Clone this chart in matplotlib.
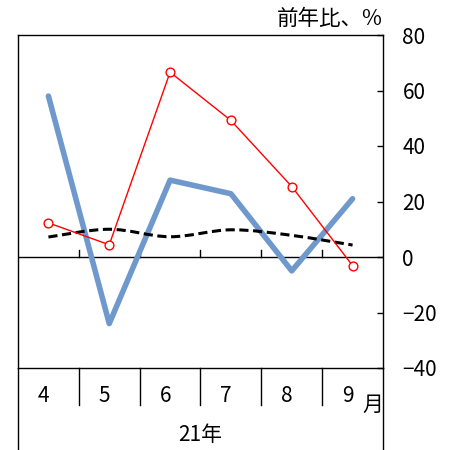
import matplotlib
matplotlib.use("Agg")
import matplotlib.pyplot as plt
from matplotlib.path import Path
from matplotlib.patches import PathPatch
import numpy as np

plt.rcParams['font.family'] = ['Noto Sans CJK JP', 'DejaVu Sans']

months = ["4", "5", "6", "7", "8", "9"]
year_label = "21年"
blue_vals = [58, -24, 27.7, 22.8, -5, 21]
red_vals = [12.3, 4.4, 66.6, 49.2, 25.4, -3.1]
black_vals = [7.2, 10, 7.3, 9.8, 7.8, 4.3]
yticks = [80, 60, 40, 20, 0, -20, -40]

fig = plt.figure(figsize=(4.5, 4.5), dpi=100)
ax = fig.add_axes([18/450, 1-368/450, (383-18)/450, (368-35)/450])
x = np.arange(len(months))

ax.plot(x, blue_vals, color='#6f99cc', lw=4.0, solid_capstyle='round', zorder=2)

# smoothed dashed line (Catmull-Rom -> cubic bezier)
pts = np.column_stack([x, black_vals]).astype(float)
verts = [tuple(pts[0])]
codes = [Path.MOVETO]
n = len(pts)
for i in range(n - 1):
    p0 = pts[i - 1] if i > 0 else pts[i]
    p1 = pts[i]
    p2 = pts[i + 1]
    p3 = pts[i + 2] if i + 2 < n else pts[i + 1]
    c1 = p1 + (p2 - p0) / 6
    c2 = p2 - (p3 - p1) / 6
    verts += [tuple(c1), tuple(c2), tuple(p2)]
    codes += [Path.CURVE4] * 3
ax.add_patch(PathPatch(Path(verts, codes), fill=False, edgecolor='black',
                       lw=2.2, linestyle=(0, (3, 1.5)), zorder=3))

ax.plot(x, red_vals, color='#ff0000', lw=1.0, marker='o', markersize=6.3,
        markerfacecolor='white', markeredgecolor='#ff0000', markeredgewidth=1.0, zorder=4)

ax.set_xlim(-0.5, 5.5)
ax.set_ylim(-40, 80)
ax.axhline(0, color='black', lw=1.0, zorder=1)
for b in np.arange(0.5, 5.5, 1.0):
    ax.plot([b, b], [0, 2.5], color='black', lw=1.0, zorder=1)

ax.yaxis.tick_right()
ax.set_yticks(yticks)
ax.set_yticklabels([str(v).replace('-', '\u2212') for v in yticks], fontsize=15)
ax.tick_params(axis='y', direction='in', length=4, width=1, pad=14, right=True, left=False)
ax.set_xticks([])
for s in ax.spines.values():
    s.set_linewidth(1.0)

# category table below
for b in np.arange(0.5, 5.5, 1.0):
    ax.plot([b, b], [0, -0.11], transform=ax.get_xaxis_transform(),
            color='black', lw=1.0, clip_on=False)
for b in [-0.5, 5.5]:
    ax.plot([b, b], [0, -0.25], transform=ax.get_xaxis_transform(),
            color='black', lw=1.0, clip_on=False)
for xi, m in zip(x, months):
    ax.text(xi - 0.08, -0.083, m, transform=ax.get_xaxis_transform(),
            ha='center', va='center', fontsize=15)
ax.text(5.33, -0.112, "月", transform=ax.get_xaxis_transform(),
        ha='center', va='center', fontsize=15)
ax.text(2.5, -0.2, year_label, transform=ax.get_xaxis_transform(),
        ha='center', va='center', fontsize=15)

fig.text(383/450, 1-19/450, "前年比、%", ha='right', va='center', fontsize=15.5)

fig.savefig("out.png", dpi=100)
